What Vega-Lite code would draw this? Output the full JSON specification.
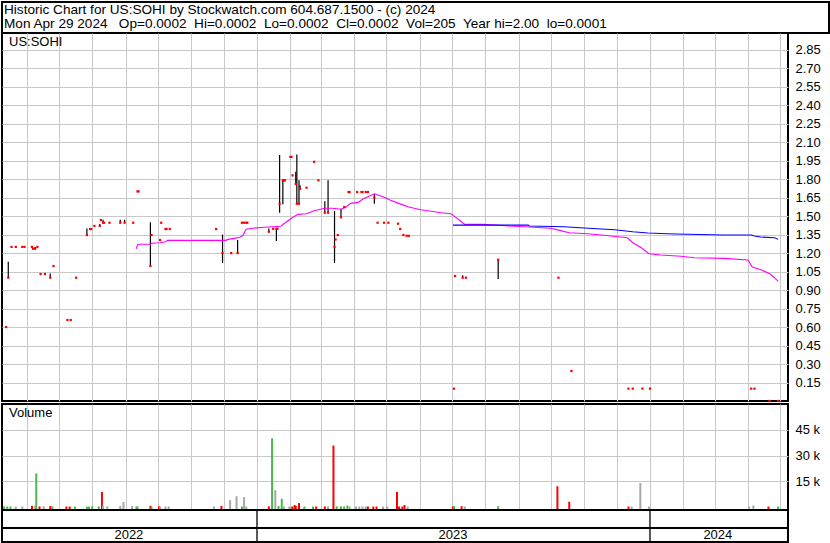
{
  "$schema": "https://vega.github.io/schema/vega-lite/v6.json",
  "padding": 1,
  "background": "white",
  "spacing": 0,
  "bounds": "flush",
  "config": {
    "view": {"stroke": "black", "strokeWidth": 2},
    "font": "Liberation Sans",
    "concat": {"spacing": 0},
    "axis": {"gridColor": "#c8c8c8", "gridWidth": 1, "gridOpacity": 1, "labelFont": "Liberation Sans", "labelColor": "black"}
  },
  "datasets": {
    "px": [
      {"d": "2022-05-13", "c": 0.6},
      {"d": "2022-05-15", "h": 1.13, "l": 1.0, "c": 1.0},
      {"d": "2022-05-18", "c": 1.25},
      {"d": "2022-05-22", "c": 1.25},
      {"d": "2022-05-28", "c": 1.25},
      {"d": "2022-05-30", "c": 1.25},
      {"d": "2022-06-06", "c": 1.25},
      {"d": "2022-06-07", "c": 1.235},
      {"d": "2022-06-09", "h": 1.25, "l": 1.235, "c": 1.235},
      {"d": "2022-06-11", "c": 1.25},
      {"d": "2022-06-14", "c": 1.03},
      {"d": "2022-06-18", "c": 1.03},
      {"d": "2022-06-23", "h": 1.035, "l": 1.0, "c": 1.0},
      {"d": "2022-06-26", "c": 1.095},
      {"d": "2022-07-09", "c": 0.657},
      {"d": "2022-07-12", "c": 0.657},
      {"d": "2022-07-17", "c": 1.0},
      {"d": "2022-07-27", "h": 1.4, "l": 1.346, "c": 1.346},
      {"d": "2022-07-30", "c": 1.395},
      {"d": "2022-07-31", "c": 1.395},
      {"d": "2022-08-03", "c": 1.42},
      {"d": "2022-08-08", "h": 1.435, "l": 1.42, "c": 1.42},
      {"d": "2022-08-09", "c": 1.468},
      {"d": "2022-08-11", "h": 1.47, "l": 1.446, "c": 1.446},
      {"d": "2022-08-12", "c": 1.446},
      {"d": "2022-08-17", "c": 1.446},
      {"d": "2022-08-27", "h": 1.47, "l": 1.446, "c": 1.446},
      {"d": "2022-08-31", "h": 1.47, "l": 1.446, "c": 1.446},
      {"d": "2022-09-08", "c": 1.446},
      {"d": "2022-09-12", "c": 1.7},
      {"d": "2022-09-13", "c": 1.7},
      {"d": "2022-09-24", "h": 1.45, "l": 1.095, "c": 1.095},
      {"d": "2022-09-25", "c": 1.346},
      {"d": "2022-10-03", "c": 1.306},
      {"d": "2022-10-04", "c": 1.446},
      {"d": "2022-10-08", "c": 1.395},
      {"d": "2022-10-09", "c": 1.395},
      {"d": "2022-10-12", "c": 1.395},
      {"d": "2022-11-24", "c": 1.395},
      {"d": "2022-11-30", "h": 1.35, "l": 1.12, "c": 1.2},
      {"d": "2022-12-08", "c": 1.2},
      {"d": "2022-12-14", "h": 1.306, "l": 1.2, "c": 1.2},
      {"d": "2022-12-18", "c": 1.446},
      {"d": "2022-12-20", "c": 1.446},
      {"d": "2022-12-22", "c": 1.446},
      {"d": "2022-12-23", "c": 1.446},
      {"d": "2023-01-12", "h": 1.4, "l": 1.373, "c": 1.373},
      {"d": "2023-01-16", "c": 1.397},
      {"d": "2023-01-19", "h": 1.397, "l": 1.297, "c": 1.397},
      {"d": "2023-01-20", "c": 1.397},
      {"d": "2023-01-22", "h": 1.995, "l": 1.527, "c": 1.6},
      {"d": "2023-01-25", "h": 1.8, "l": 1.595, "c": 1.79},
      {"d": "2023-01-26", "c": 1.79},
      {"d": "2023-01-27", "c": 1.79},
      {"d": "2023-02-01", "c": 1.98},
      {"d": "2023-02-02", "c": 1.98},
      {"d": "2023-02-03", "c": 1.83},
      {"d": "2023-02-06", "h": 1.86, "l": 1.76, "c": 1.76},
      {"d": "2023-02-07", "h": 2.0, "l": 1.6, "c": 1.6},
      {"d": "2023-02-09", "h": 1.79, "l": 1.6, "c": 1.6},
      {"d": "2023-02-10", "h": 1.75, "l": 1.72, "c": 1.72},
      {"d": "2023-02-16", "c": 1.73},
      {"d": "2023-02-23", "c": 1.94},
      {"d": "2023-02-27", "c": 1.79},
      {"d": "2023-03-05", "h": 1.62, "l": 1.527, "c": 1.527},
      {"d": "2023-03-08", "h": 1.79, "l": 1.527, "c": 1.527},
      {"d": "2023-03-14", "h": 1.54, "l": 1.12, "c": 1.25},
      {"d": "2023-03-15", "c": 1.31},
      {"d": "2023-03-17", "c": 1.346},
      {"d": "2023-03-20", "h": 1.56, "l": 1.49, "c": 1.49},
      {"d": "2023-03-23", "c": 1.573},
      {"d": "2023-03-27", "c": 1.695},
      {"d": "2023-03-28", "c": 1.695},
      {"d": "2023-04-04", "c": 1.695},
      {"d": "2023-04-08", "c": 1.695},
      {"d": "2023-04-09", "c": 1.695},
      {"d": "2023-04-12", "c": 1.695},
      {"d": "2023-04-14", "c": 1.695},
      {"d": "2023-04-20", "h": 1.68, "l": 1.6, "c": 1.65},
      {"d": "2023-04-23", "c": 1.446},
      {"d": "2023-04-29", "c": 1.446},
      {"d": "2023-05-03", "c": 1.446},
      {"d": "2023-05-12", "c": 1.438},
      {"d": "2023-05-14", "c": 1.395},
      {"d": "2023-05-17", "c": 1.346},
      {"d": "2023-05-20", "c": 1.34},
      {"d": "2023-05-22", "c": 1.34},
      {"d": "2023-07-03", "c": 0.1},
      {"d": "2023-07-04", "c": 1.014},
      {"d": "2023-07-11", "h": 1.02, "l": 1.0, "c": 1.0},
      {"d": "2023-07-14", "c": 1.0},
      {"d": "2023-08-13", "h": 1.15, "l": 0.99, "c": 1.146},
      {"d": "2023-10-08", "c": 1.0},
      {"d": "2023-10-20", "c": 0.243},
      {"d": "2023-12-12", "c": 0.1},
      {"d": "2023-12-16", "c": 0.1},
      {"d": "2023-12-25", "c": 0.1},
      {"d": "2024-01-01", "c": 0.1},
      {"d": "2024-04-04", "c": 0.1},
      {"d": "2024-04-07", "c": 0.1},
      {"d": "2024-04-21", "c": 0.0002},
      {"d": "2024-04-29", "c": 0.0002}
    ],
    "ma1": [
      {"d": "2022-09-11", "m": 1.235}, {"d": "2022-09-12", "m": 1.268}, {"d": "2022-09-13", "m": 1.271},
      {"d": "2022-09-24", "m": 1.271}, {"d": "2022-09-25", "m": 1.279}, {"d": "2022-10-03", "m": 1.284},
      {"d": "2022-10-08", "m": 1.292}, {"d": "2022-10-10", "m": 1.303}, {"d": "2022-12-03", "m": 1.303},
      {"d": "2022-12-05", "m": 1.311}, {"d": "2022-12-11", "m": 1.319}, {"d": "2022-12-16", "m": 1.328},
      {"d": "2022-12-19", "m": 1.344}, {"d": "2022-12-21", "m": 1.379}, {"d": "2022-12-22", "m": 1.393},
      {"d": "2022-12-28", "m": 1.401}, {"d": "2023-01-08", "m": 1.409}, {"d": "2023-01-23", "m": 1.417},
      {"d": "2023-01-26", "m": 1.438}, {"d": "2023-02-02", "m": 1.482}, {"d": "2023-02-08", "m": 1.514},
      {"d": "2023-02-16", "m": 1.519}, {"d": "2023-02-23", "m": 1.543}, {"d": "2023-03-05", "m": 1.563},
      {"d": "2023-03-12", "m": 1.563}, {"d": "2023-03-20", "m": 1.555}, {"d": "2023-03-25", "m": 1.576},
      {"d": "2023-03-29", "m": 1.603}, {"d": "2023-04-05", "m": 1.611}, {"d": "2023-04-09", "m": 1.636},
      {"d": "2023-04-14", "m": 1.657}, {"d": "2023-04-20", "m": 1.681}, {"d": "2023-04-28", "m": 1.657},
      {"d": "2023-05-05", "m": 1.628}, {"d": "2023-05-15", "m": 1.595}, {"d": "2023-05-22", "m": 1.573},
      {"d": "2023-06-02", "m": 1.551}, {"d": "2023-06-15", "m": 1.535}, {"d": "2023-06-21", "m": 1.527},
      {"d": "2023-06-30", "m": 1.519}, {"d": "2023-07-05", "m": 1.487}, {"d": "2023-07-09", "m": 1.46},
      {"d": "2023-07-13", "m": 1.433}, {"d": "2023-07-29", "m": 1.433}, {"d": "2023-08-11", "m": 1.427},
      {"d": "2023-08-23", "m": 1.419}, {"d": "2023-09-11", "m": 1.411}, {"d": "2023-10-01", "m": 1.401},
      {"d": "2023-10-09", "m": 1.384}, {"d": "2023-10-18", "m": 1.365}, {"d": "2023-11-04", "m": 1.357},
      {"d": "2023-11-17", "m": 1.346}, {"d": "2023-11-26", "m": 1.338}, {"d": "2023-12-11", "m": 1.324},
      {"d": "2023-12-16", "m": 1.284}, {"d": "2023-12-24", "m": 1.243}, {"d": "2023-12-31", "m": 1.195},
      {"d": "2024-01-11", "m": 1.184}, {"d": "2024-01-30", "m": 1.174}, {"d": "2024-02-11", "m": 1.162},
      {"d": "2024-03-10", "m": 1.157}, {"d": "2024-04-01", "m": 1.144}, {"d": "2024-04-05", "m": 1.087},
      {"d": "2024-04-13", "m": 1.065}, {"d": "2024-04-22", "m": 1.028}, {"d": "2024-04-29", "m": 0.973}
    ],
    "ma2": [
      {"d": "2023-07-02", "m": 1.427}, {"d": "2023-09-10", "m": 1.427}, {"d": "2023-09-11", "m": 1.419},
      {"d": "2023-10-13", "m": 1.414}, {"d": "2023-11-01", "m": 1.403}, {"d": "2023-11-29", "m": 1.389},
      {"d": "2023-12-16", "m": 1.373}, {"d": "2023-12-30", "m": 1.363}, {"d": "2024-01-24", "m": 1.354},
      {"d": "2024-03-10", "m": 1.346}, {"d": "2024-04-04", "m": 1.346}, {"d": "2024-04-07", "m": 1.338},
      {"d": "2024-04-13", "m": 1.33}, {"d": "2024-04-26", "m": 1.324}, {"d": "2024-04-29", "m": 1.311}
    ],
    "vol": [
      {"d": "2022-05-11", "v": 300, "k": "up"}, {"d": "2022-05-14", "v": 300, "k": "up"}, {"d": "2022-05-17", "v": 300, "k": "up"},
      {"d": "2022-05-22", "v": 300, "k": "eq"}, {"d": "2022-05-28", "v": 300, "k": "eq"}, {"d": "2022-06-06", "v": 700, "k": "dn"},
      {"d": "2022-06-09", "v": 700, "k": "eq"}, {"d": "2022-06-10", "v": 19600, "k": "up"}, {"d": "2022-06-13", "v": 300, "k": "dn"},
      {"d": "2022-06-17", "v": 400, "k": "eq"}, {"d": "2022-06-23", "v": 600, "k": "dn"}, {"d": "2022-06-25", "v": 300, "k": "up"},
      {"d": "2022-07-08", "v": 300, "k": "dn"}, {"d": "2022-07-11", "v": 300, "k": "dn"}, {"d": "2022-07-16", "v": 300, "k": "up"},
      {"d": "2022-07-27", "v": 300, "k": "up"}, {"d": "2022-07-29", "v": 300, "k": "up"}, {"d": "2022-08-01", "v": 500, "k": "up"},
      {"d": "2022-08-07", "v": 300, "k": "up"}, {"d": "2022-08-10", "v": 8800, "k": "dn"}, {"d": "2022-08-11", "v": 700, "k": "eq"},
      {"d": "2022-08-15", "v": 400, "k": "eq"}, {"d": "2022-08-27", "v": 600, "k": "eq"}, {"d": "2022-08-30", "v": 2900, "k": "eq"},
      {"d": "2022-09-07", "v": 600, "k": "eq"}, {"d": "2022-09-11", "v": 300, "k": "up"}, {"d": "2022-09-12", "v": 300, "k": "up"},
      {"d": "2022-09-24", "v": 700, "k": "dn"}, {"d": "2022-09-25", "v": 300, "k": "up"}, {"d": "2022-10-02", "v": 500, "k": "dn"},
      {"d": "2022-10-03", "v": 300, "k": "eq"}, {"d": "2022-10-08", "v": 300, "k": "eq"}, {"d": "2022-10-11", "v": 300, "k": "eq"},
      {"d": "2022-11-22", "v": 300, "k": "eq"}, {"d": "2022-11-29", "v": 700, "k": "dn"}, {"d": "2022-12-07", "v": 4000, "k": "eq"},
      {"d": "2022-12-13", "v": 6300, "k": "eq"}, {"d": "2022-12-18", "v": 300, "k": "up"}, {"d": "2022-12-20", "v": 5800, "k": "eq"},
      {"d": "2022-12-22", "v": 300, "k": "eq"}, {"d": "2023-01-12", "v": 400, "k": "dn"}, {"d": "2023-01-15", "v": 40000, "k": "up"},
      {"d": "2023-01-18", "v": 9800, "k": "eq"}, {"d": "2023-01-21", "v": 600, "k": "up"}, {"d": "2023-01-24", "v": 4800, "k": "up"},
      {"d": "2023-01-26", "v": 300, "k": "eq"}, {"d": "2023-01-31", "v": 300, "k": "eq"}, {"d": "2023-02-02", "v": 300, "k": "eq"},
      {"d": "2023-02-03", "v": 300, "k": "dn"}, {"d": "2023-02-05", "v": 1150, "k": "dn"}, {"d": "2023-02-06", "v": 600, "k": "dn"},
      {"d": "2023-02-09", "v": 2300, "k": "dn"}, {"d": "2023-02-14", "v": 300, "k": "up"}, {"d": "2023-02-22", "v": 300, "k": "up"},
      {"d": "2023-02-25", "v": 300, "k": "dn"}, {"d": "2023-03-05", "v": 300, "k": "dn"}, {"d": "2023-03-08", "v": 400, "k": "eq"},
      {"d": "2023-03-13", "v": 35800, "k": "dn"}, {"d": "2023-03-16", "v": 400, "k": "up"}, {"d": "2023-03-20", "v": 400, "k": "up"},
      {"d": "2023-03-23", "v": 300, "k": "up"}, {"d": "2023-03-26", "v": 900, "k": "up"}, {"d": "2023-03-28", "v": 300, "k": "eq"},
      {"d": "2023-04-03", "v": 300, "k": "eq"}, {"d": "2023-04-06", "v": 300, "k": "eq"}, {"d": "2023-04-09", "v": 300, "k": "eq"},
      {"d": "2023-04-12", "v": 300, "k": "eq"}, {"d": "2023-04-14", "v": 300, "k": "dn"}, {"d": "2023-04-19", "v": 300, "k": "dn"},
      {"d": "2023-04-22", "v": 300, "k": "dn"}, {"d": "2023-04-28", "v": 300, "k": "eq"}, {"d": "2023-05-02", "v": 300, "k": "eq"},
      {"d": "2023-05-11", "v": 8800, "k": "dn"}, {"d": "2023-05-13", "v": 300, "k": "dn"}, {"d": "2023-05-16", "v": 300, "k": "dn"},
      {"d": "2023-05-18", "v": 1150, "k": "dn"}, {"d": "2023-05-21", "v": 300, "k": "eq"}, {"d": "2023-07-02", "v": 300, "k": "dn"},
      {"d": "2023-07-03", "v": 500, "k": "up"}, {"d": "2023-07-10", "v": 500, "k": "dn"}, {"d": "2023-07-13", "v": 300, "k": "eq"},
      {"d": "2023-08-13", "v": 500, "k": "up"}, {"d": "2023-10-07", "v": 12100, "k": "dn"}, {"d": "2023-10-18", "v": 3100, "k": "dn"},
      {"d": "2023-12-12", "v": 300, "k": "dn"}, {"d": "2023-12-15", "v": 300, "k": "eq"}, {"d": "2023-12-23", "v": 14000, "k": "eq"},
      {"d": "2023-12-31", "v": 300, "k": "eq"}, {"d": "2024-04-02", "v": 300, "k": "eq"}, {"d": "2024-04-06", "v": 900, "k": "eq"},
      {"d": "2024-04-20", "v": 300, "k": "dn"}, {"d": "2024-04-29", "v": 300, "k": "up"}
    ],
    "years": [
      {"d": "2022-09-04", "y": "2022"},
      {"d": "2023-07-02", "y": "2023"},
      {"d": "2024-03-04", "y": "2024"}
    ],
    "bounds": [
      {"d": "2023-01-01"},
      {"d": "2024-01-01"}
    ]
  },
  "vconcat": [
    {
      "width": 827,
      "height": 31,
      "data": {"values": [{"t": ["Historic Chart for US:SOHI by Stockwatch.com 604.687.1500 - (c) 2024", "Mon Apr 29 2024\u00a0 \u00a0Op=0.0002\u00a0 Hi=0.0002\u00a0 Lo=0.0002\u00a0 Cl=0.0002\u00a0 Vol=205\u00a0 Year hi=2.00\u00a0 lo=0.0001"]}]},
      "mark": {"type": "text", "align": "left", "baseline": "top", "fontSize": 13.6, "lineHeight": 13.5, "color": "black", "dx": 2, "dy": 1},
      "encoding": {
        "x": {"datum": 0, "type": "quantitative", "scale": {"domain": [0, 1]}, "axis": null},
        "y": {"datum": 1, "type": "quantitative", "scale": {"domain": [0, 1]}, "axis": null},
        "text": {"field": "t"}
      }
    },
    {
      "hconcat": [
        {
          "vconcat": [
            {
              "width": 786,
              "height": 368,
              "layer": [
                {
                  "data": {"name": "px"},
                  "transform": [{"filter": "datum.h > datum.l"}],
                  "mark": {"type": "rule", "color": "black", "strokeWidth": 1.2},
                  "encoding": {
                    "x": {
                      "field": "d", "type": "temporal",
                      "scale": {"type": "utc", "domain": [1652068800000, 1715140800000]},
                      "axis": {"orient": "bottom", "labels": false, "ticks": false, "domain": false, "title": null, "grid": true, "tickCount": 40,
                        "values": [
                          {"year": 2022, "month": 6, "date": 1, "utc": true}, {"year": 2022, "month": 7, "date": 1, "utc": true}, {"year": 2022, "month": 8, "date": 1, "utc": true},
                          {"year": 2022, "month": 9, "date": 1, "utc": true}, {"year": 2022, "month": 10, "date": 1, "utc": true}, {"year": 2022, "month": 11, "date": 1, "utc": true},
                          {"year": 2022, "month": 12, "date": 1, "utc": true}, {"year": 2023, "month": 1, "date": 1, "utc": true}, {"year": 2023, "month": 2, "date": 1, "utc": true},
                          {"year": 2023, "month": 3, "date": 1, "utc": true}, {"year": 2023, "month": 4, "date": 1, "utc": true}, {"year": 2023, "month": 5, "date": 1, "utc": true},
                          {"year": 2023, "month": 6, "date": 1, "utc": true}, {"year": 2023, "month": 7, "date": 1, "utc": true}, {"year": 2023, "month": 8, "date": 1, "utc": true},
                          {"year": 2023, "month": 9, "date": 1, "utc": true}, {"year": 2023, "month": 10, "date": 1, "utc": true}, {"year": 2023, "month": 11, "date": 1, "utc": true},
                          {"year": 2023, "month": 12, "date": 1, "utc": true}, {"year": 2024, "month": 1, "date": 1, "utc": true}, {"year": 2024, "month": 2, "date": 1, "utc": true},
                          {"year": 2024, "month": 3, "date": 1, "utc": true}, {"year": 2024, "month": 4, "date": 1, "utc": true}, {"year": 2024, "month": 5, "date": 1, "utc": true}
                        ]}
                    },
                    "y": {
                      "field": "h", "type": "quantitative",
                      "scale": {"domain": [0, 2.985], "nice": false, "zero": false},
                      "axis": {"orient": "right", "values": [0.15, 0.3, 0.45, 0.6, 0.75, 0.9, 1.05, 1.2, 1.35, 1.5, 1.65, 1.8, 1.95, 2.1, 2.25, 2.4, 2.55, 2.7, 2.85], "tickCount": 40, "format": ".2f", "title": null, "domain": false, "ticks": false, "labelPadding": 7, "labelFontSize": 13, "labelOverlap": false, "labelBound": false, "labelFlush": false, "grid": true, "minExtent": 41, "maxExtent": 41}
                    },
                    "y2": {"field": "l"}
                  }
                },
                {
                  "data": {"name": "ma1"},
                  "mark": {"type": "line", "color": "#ff00ff", "strokeWidth": 1.1},
                  "encoding": {"x": {"field": "d", "type": "temporal"}, "y": {"field": "m", "type": "quantitative"}}
                },
                {
                  "data": {"name": "ma2"},
                  "mark": {"type": "line", "color": "#0000ff", "strokeWidth": 1.1},
                  "encoding": {"x": {"field": "d", "type": "temporal"}, "y": {"field": "m", "type": "quantitative"}}
                },
                {
                  "data": {"name": "px"},
                  "mark": {"type": "square", "color": "#ff0000", "size": 5, "opacity": 1, "filled": true},
                  "encoding": {"x": {"field": "d", "type": "temporal"}, "y": {"field": "c", "type": "quantitative"}}
                },
                {
                  "data": {"values": [{"t": "US:SOHI"}]},
                  "mark": {"type": "text", "align": "left", "baseline": "top", "fontSize": 13, "color": "black", "dx": 7, "dy": 3},
                  "encoding": {
                    "x": {"datum": 1652068800000, "type": "temporal"},
                    "y": {"datum": 2.985, "type": "quantitative"},
                    "text": {"field": "t"}
                  }
                }
              ]
            },
            {
              "vconcat": [
                {
                  "width": 786,
                  "height": 106,
                  "layer": [
                    {
                      "data": {"name": "vol"},
                      "mark": {"type": "rule", "strokeWidth": 2},
                      "encoding": {
                        "x": {
                          "field": "d", "type": "temporal",
                          "scale": {"type": "utc", "domain": [1652068800000, 1715140800000]},
                          "axis": {"orient": "bottom", "labels": false, "ticks": false, "domain": false, "title": null, "grid": true, "tickCount": 40,
                            "values": [
                              {"year": 2022, "month": 6, "date": 1, "utc": true}, {"year": 2022, "month": 7, "date": 1, "utc": true}, {"year": 2022, "month": 8, "date": 1, "utc": true},
                              {"year": 2022, "month": 9, "date": 1, "utc": true}, {"year": 2022, "month": 10, "date": 1, "utc": true}, {"year": 2022, "month": 11, "date": 1, "utc": true},
                              {"year": 2022, "month": 12, "date": 1, "utc": true}, {"year": 2023, "month": 1, "date": 1, "utc": true}, {"year": 2023, "month": 2, "date": 1, "utc": true},
                              {"year": 2023, "month": 3, "date": 1, "utc": true}, {"year": 2023, "month": 4, "date": 1, "utc": true}, {"year": 2023, "month": 5, "date": 1, "utc": true},
                              {"year": 2023, "month": 6, "date": 1, "utc": true}, {"year": 2023, "month": 7, "date": 1, "utc": true}, {"year": 2023, "month": 8, "date": 1, "utc": true},
                              {"year": 2023, "month": 9, "date": 1, "utc": true}, {"year": 2023, "month": 10, "date": 1, "utc": true}, {"year": 2023, "month": 11, "date": 1, "utc": true},
                              {"year": 2023, "month": 12, "date": 1, "utc": true}, {"year": 2024, "month": 1, "date": 1, "utc": true}, {"year": 2024, "month": 2, "date": 1, "utc": true},
                              {"year": 2024, "month": 3, "date": 1, "utc": true}, {"year": 2024, "month": 4, "date": 1, "utc": true}, {"year": 2024, "month": 5, "date": 1, "utc": true}
                            ]}
                        },
                        "y": {
                          "field": "v", "type": "quantitative",
                          "scale": {"domain": [-1730, 60000], "nice": false, "zero": false},
                          "axis": {"orient": "right", "values": [15000, 30000, 45000], "labelExpr": "(datum.value / 1000) + ' k'", "title": null, "domain": false, "ticks": false, "labelPadding": 7, "labelFontSize": 13, "labelOverlap": false, "grid": true, "minExtent": 41, "maxExtent": 41}
                        },
                        "y2": {"datum": -1730},
                        "color": {"field": "k", "type": "nominal", "scale": {"domain": ["up", "dn", "eq"], "range": ["#4cb84c", "#ff0000", "#a8a8a8"]}, "legend": null}
                      }
                    },
                    {
                      "data": {"values": [{"t": "Volume"}]},
                      "mark": {"type": "text", "align": "left", "baseline": "top", "fontSize": 13, "color": "black", "dx": 7, "dy": 3},
                      "encoding": {
                        "x": {"datum": 1652068800000, "type": "temporal"},
                        "y": {"datum": 60000, "type": "quantitative"},
                        "text": {"field": "t"}
                      }
                    }
                  ]
                },
                {
                  "width": 786,
                  "height": 18,
                  "data": {"name": "bounds"},
                  "mark": {"type": "rule", "color": "black", "strokeWidth": 1.3},
                  "encoding": {
                    "x": {"field": "d", "type": "temporal", "axis": null,
                      "scale": {"type": "utc", "domain": [1652068800000, 1715140800000]}}
                  }
                },
                {
                  "width": 786,
                  "height": 14,
                  "layer": [
                    {
                      "data": {"name": "bounds"},
                      "mark": {"type": "rule", "color": "black", "strokeWidth": 1.3},
                      "encoding": {
                        "x": {"field": "d", "type": "temporal", "axis": null,
                          "scale": {"type": "utc", "domain": [1652068800000, 1715140800000]}}
                      }
                    },
                    {
                      "data": {"name": "years"},
                      "mark": {"type": "text", "fontSize": 13, "color": "black", "baseline": "middle", "align": "center"},
                      "encoding": {
                        "x": {"field": "d", "type": "temporal", "axis": null},
                        "text": {"field": "y", "type": "nominal"}
                      }
                    }
                  ]
                }
              ],
              "bounds": "flush"
            }
          ],
          "spacing": 3,
          "bounds": "flush"
        },
        {
          "width": 1,
          "height": 509,
          "data": {"values": [{"a": 1}]},
          "mark": {"type": "rule", "opacity": 0},
          "encoding": {}
        }
      ],
      "spacing": 40,
      "bounds": "flush"
    }
  ]
}
